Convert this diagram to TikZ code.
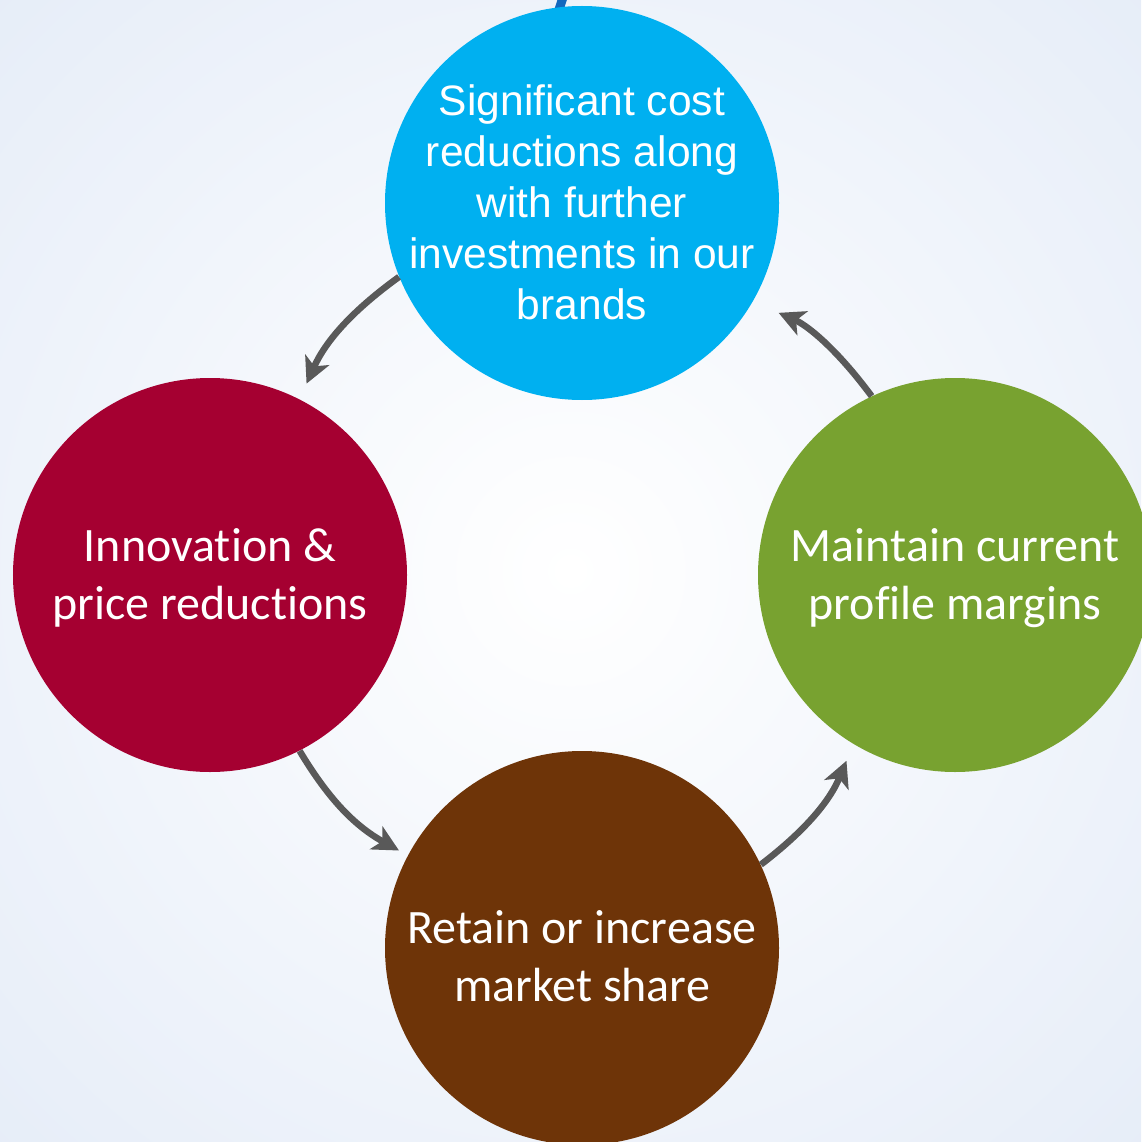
\documentclass[tikz,border=0pt]{standalone}
\usepackage{fontspec}
\setmainfont{Liberation Sans}[Ligatures=NoCommon]
\newfontfamily\calibri{Carlito}[Ligatures=NoCommon]
\usetikzlibrary{positioning,arrows.meta}
\definecolor{costblue}{RGB}{0,176,240}
\definecolor{innovred}{RGB}{165,0,49}
\definecolor{margingreen}{RGB}{120,162,48}
\definecolor{sharebrown}{RGB}{110,52,8}
\definecolor{arrowgray}{RGB}{89,89,89}
\definecolor{bgblue}{RGB}{230,237,248}
\definecolor{strokeblue}{RGB}{18,104,190}
\pgfdeclareradialshading{bgfade}{\pgfpoint{0bp}{0bp}}{color(0bp)=(white); color(36bp)=(bgblue); color(50bp)=(bgblue)}

\begin{document}
\begin{tikzpicture}[node distance=7.44cm,on grid,
    stage/.style={circle,minimum size=7.88cm,inner sep=0pt},
    stagetext/.style={align=center,text=white,font=\calibri\fontsize{27.3}{33}\selectfont},
    cyclearrow/.style={color=arrowgray,line width=0.13cm,-{Stealth[length=0.52cm,width=0.52cm,inset=0.14cm]}}]
  \useasboundingbox (0,0) rectangle (22.82,-22.84);
  \shade[shading=bgfade] (0,0) rectangle (22.82,-22.84);
  \draw[strokeblue,line width=0.18cm] (11.34,0.3) -- (11.08,-0.5);
  % the four stages
  \node[stage,fill=costblue,label={[stagetext,font=\fontsize{24.2}{29}\selectfont,yshift=0.02cm]center:{Significant cost\\reductions along\\with further\\investments in our\\brands}}] (Cost) at (11.64,-4.06) {};
  \node[stage,fill=innovred,label={[stagetext,yshift=-0.06cm]center:{Innovation \&\\price reductions}}] (Innov) [below left=7.44cm and 7.44cm of Cost] {};
  \node[stage,fill=margingreen,label={[stagetext,yshift=-0.06cm]center:{Maintain current\\profile margins}}] (Margin) [below right=7.44cm and 7.46cm of Cost] {};
  \node[stage,fill=sharebrown,label={[stagetext,yshift=-0.16cm]center:{Retain or increase\\market share}}] (Share) [below=14.9cm of Cost] {};
  \path[cyclearrow]
    (Cost.202) edge[bend right=15,shorten >=0.34cm] (Innov.63)
    (Innov.-63) edge[bend right=15,shorten >=0.2cm] (Share.152)
    (Share.25) edge[bend right=15,shorten >=0.36cm] (Margin.239)
    (Margin.115) edge[bend right=15,shorten >=0.56cm] (Cost.-30);
\end{tikzpicture}
\end{document}
